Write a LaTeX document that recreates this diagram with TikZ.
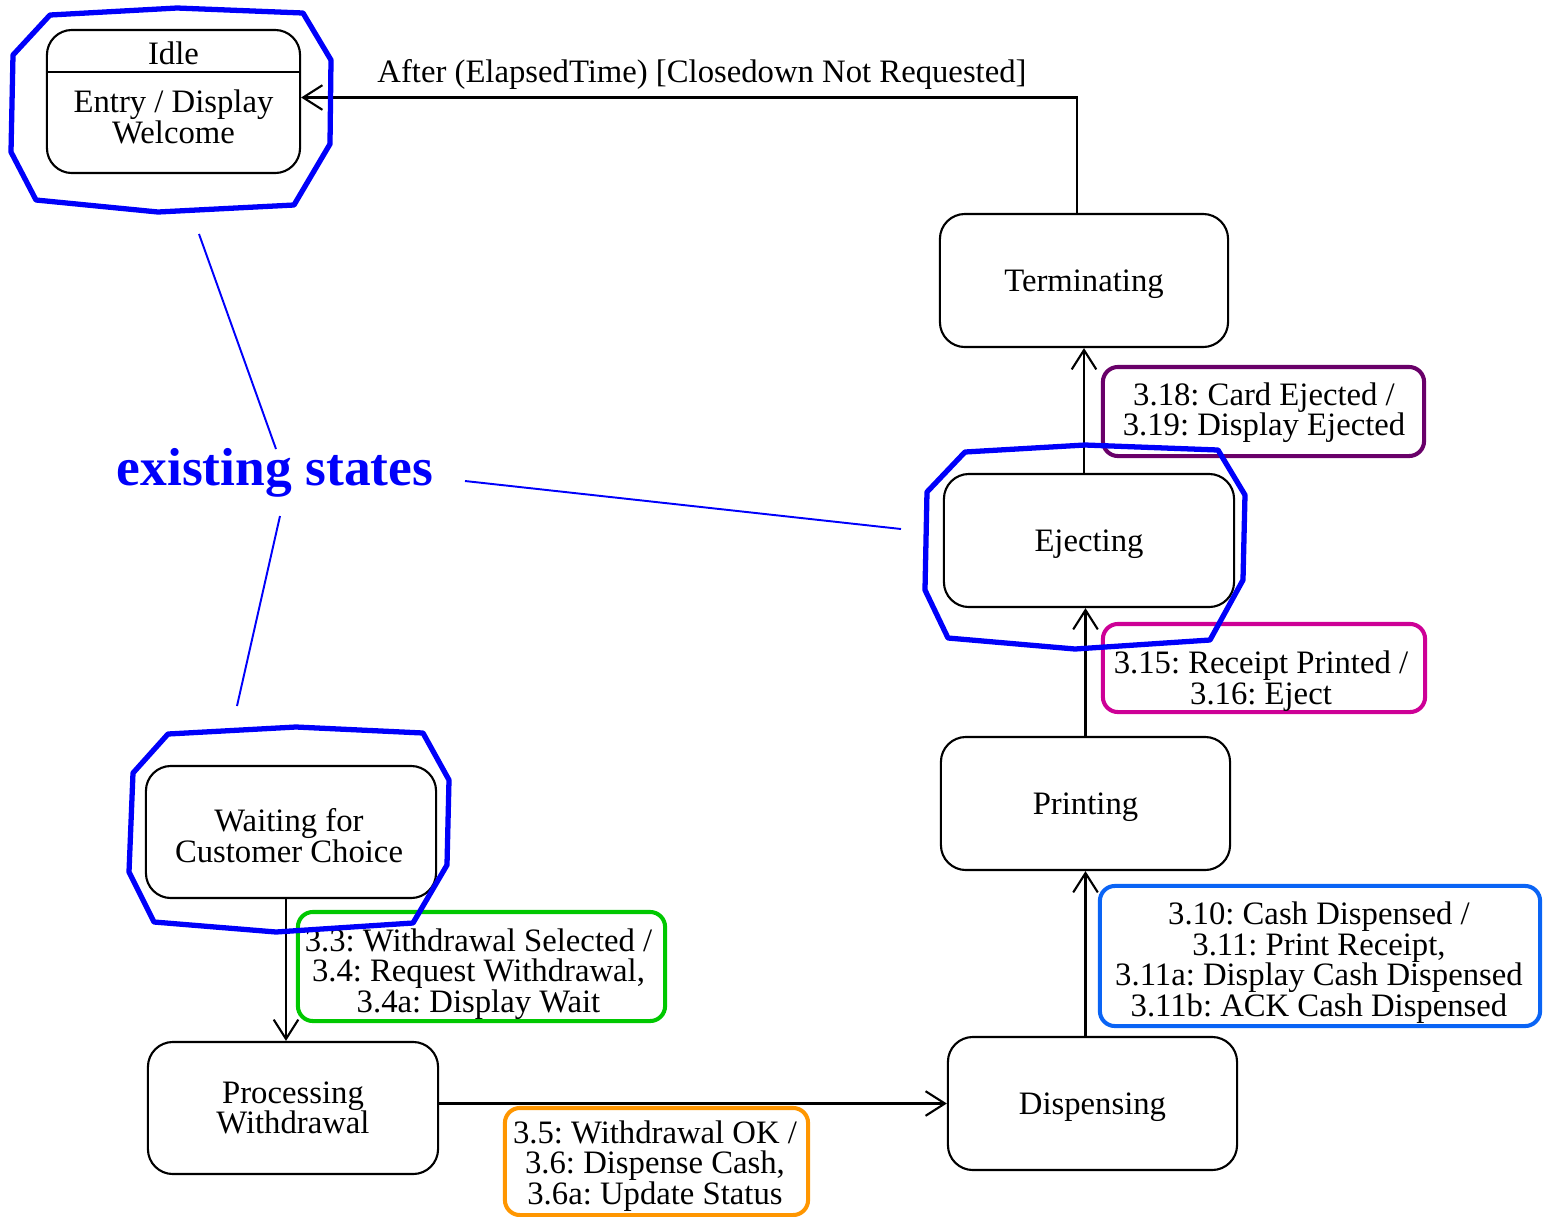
\documentclass[tikz,border=0pt]{standalone}
\usepackage{fontspec}
\setmainfont{Liberation Serif}
\usetikzlibrary{arrows.meta}
\definecolor{markblue}{RGB}{0,0,250}
\definecolor{lblgreen}{RGB}{0,200,0}
\definecolor{lblorange}{RGB}{255,150,0}
\definecolor{lblblue}{RGB}{10,100,245}
\definecolor{lblpurple}{RGB}{105,0,105}
\definecolor{lblmagenta}{RGB}{205,0,150}
\newcommand\dgfont{\fontsize{9.3}{8.7}\selectfont}
\frenchspacing
\begin{document}
\begin{tikzpicture}[x=0.01cm,y=-0.01cm,
  state/.style={draw, line width=0.6pt, rounded corners=0.25cm,
    minimum width=2.89cm, minimum height=1.33cm, align=center,
    font=\dgfont, inner sep=0pt},
  oneline/.style={text height=8.3pt, text depth=2pt},
  lbox/.style={draw=#1, line width=1.15pt, rounded corners=0.15cm, inner sep=0pt},
  ltext/.style={align=center, font=\dgfont, inner sep=0pt},
  arr/.style={line width=0.6pt, -{Straight Barb[length=5.5pt,width=7pt,line width=0.6pt]}},
  octa/.style={draw=markblue, line width=1.5pt, line join=round},
  pointer/.style={draw=markblue, line width=0.55pt}]
\useasboundingbox (0,0) rectangle (1550,1217);

% states
\node[state, minimum width=2.53cm, minimum height=1.43cm] (idle) at (173.5,101.5) {};
\draw[line width=0.6pt] (idle.west |- 0,72) -- (idle.east |- 0,72);
\node[ltext] (idlename) at (173.5,53) {Idle};
\node[ltext] (idlebody) at (173.5,117) {Entry / Display\\Welcome};

\node[state, oneline, minimum width=2.88cm] (term) at (1084,280.5) {Terminating};
\node[state, oneline, minimum width=2.90cm] (eject) at (1089,540.5) {Ejecting};
\node[state, oneline, minimum width=2.89cm] (print) at (1085.5,803.5) {Printing};
\node[state, oneline, minimum width=2.89cm] (disp) at (1092.5,1103.5) {Dispensing};
\node[state, minimum width=2.90cm, minimum height=1.32cm] (wait) at (291,832) {};
\node[ltext] (waittext) at (289,835.5) {Waiting for\\Customer Choice};
\node[state, minimum width=2.90cm, minimum height=1.32cm] (proc) at (293,1108) {Processing\\Withdrawal};

% transitions
\coordinate (w1) at ([shift={(-5,0)}]wait.south);
\draw[arr] (w1) -- (w1 |- proc.north);
\draw[arr] (proc.east |- disp.west) -- (disp.west);
\draw[arr] (disp.north -| print.south) -- (print.south);
\coordinate (p1) at (print.north);
\draw[arr] (p1) -- (p1 |- eject.south);
\draw[arr] (eject.north -| term.south) -- (term.south);
\coordinate (t1) at ([shift={(-7,0)}]term.north);
\coordinate (i1) at ([shift={(0,-4)}]idle.east);
\draw[arr] (t1) |- (i1);

\node[ltext] (afterlbl) at (702,74) {After (ElapsedTime) [Closedown Not Requested]};

% event / action labels
\node[lbox=lblgreen, minimum width=3.67cm, minimum height=1.09cm] (gbox) at (481.5,966.5) {};
\node[ltext] (gtext) at (478.5,974) {3.3: Withdrawal Selected /\\3.4: Request Withdrawal,\\3.4a: Display Wait};
\node[lbox=lblorange, minimum width=3.03cm, minimum height=1.07cm] (obox) at (656.5,1161.5) {};
\node[ltext] (otext) at (655,1166) {3.5: Withdrawal OK /\\3.6: Dispense Cash,\\3.6a: Update Status};
\node[lbox=lblblue, minimum width=4.40cm, minimum height=1.40cm] (bbox) at (1320,956) {};
\node[ltext] (btext) at (1319,962.5) {3.10: Cash Dispensed /\\3.11: Print Receipt,\\3.11a: Display Cash Dispensed\\3.11b: ACK Cash Dispensed};
\node[lbox=lblpurple, minimum width=3.21cm, minimum height=0.89cm] (pbox) at (1263.5,411.5) {};
\node[ltext] (ptext) at (1264,412.5) {3.18: Card Ejected /\\3.19: Display Ejected};
\node[lbox=lblmagenta, minimum width=3.22cm, minimum height=0.88cm] (mbox) at (1264,668) {};
\node[ltext] (mtext) at (1261,681) {3.15: Receipt Printed /\\3.16: Eject};

% highlighted existing states
\draw[octa] (50,15) -- (177,8) -- (303,13) -- (331,60) -- (330,144) -- (294,205)
  -- (158,212) -- (36,200) -- (11,152) -- (13,55) -- cycle;
\draw[octa] (965,452) -- (1085,445) -- (1218,450) -- (1245,495) -- (1243,580) -- (1210,640)
  -- (1075,649) -- (948,638) -- (925,590) -- (927,492) -- cycle;
\draw[octa] (168,734) -- (296,727) -- (423,733) -- (449,780) -- (447,865) -- (413,923)
  -- (276,932) -- (154,922) -- (129,872) -- (133,773) -- cycle;

\node[text=markblue, font=\fontsize{15.2}{18}\selectfont\bfseries, inner sep=0pt] (exist) at (275,473) {existing states};
\coordinate (e1) at (199,234);
\coordinate (e2) at (276,449);
\coordinate (e3) at (280,516);
\coordinate (e4) at (237,706);
\coordinate (e5) at (465,481);
\coordinate (e6) at (901,529);
\draw[pointer] (e1) -- (e2);
\draw[pointer] (e3) -- (e4);
\draw[pointer] (e5) -- (e6);
\end{tikzpicture}
\end{document}
